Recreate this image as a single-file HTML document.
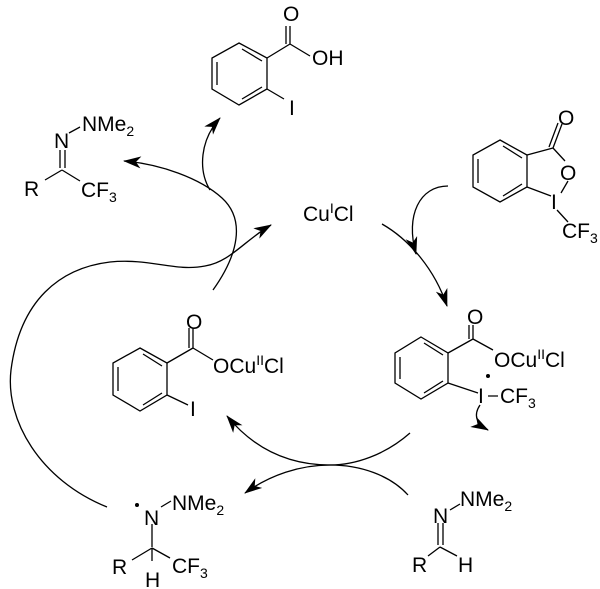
<!DOCTYPE html>
<html><head><meta charset="utf-8"><style>
html,body{margin:0;padding:0;background:#fff;}
svg{display:block;}
text{font-family:"Liberation Sans",Arial,sans-serif;font-size:21px;fill:#000;}
.s{font-size:14px;}
</style></head><body>
<svg width="600" height="589" viewBox="0 0 600 589" xmlns="http://www.w3.org/2000/svg">
<defs>
<marker id="ah" viewBox="0 0 18 12" refX="17" refY="6" markerWidth="18" markerHeight="12" markerUnits="userSpaceOnUse" orient="auto">
<path d="M0,0 L18,6 L0,12 L5,6 Z" fill="#000"/></marker>
</defs>
<g stroke="#000" stroke-width="1.3" fill="none">
<path d="M239,43 L267,58 L267,89 L239,105 L212,89 L212,58 Z"/>
<path d="M217,62 L217,85 M242,49 L262,61 M242,99 L262,87"/>
<path d="M267,58 L290,44 M290,44 L290,26 M286,44 L286,26 M290,44 L310,56 M267,89 L284,99"/>
<path d="M69,133 L80,127 M60,150 L60,168 M65,150 L65,168 M62,170 L45,180 M62,170 L80,181"/>
<path d="M500,140 L527,155 L527,187 L500,202 L473,187 L473,155 Z"/>
<path d="M478,159 L478,183 M503,146 L522,158 M503,196 L522,184"/>
<path d="M527,155 L553,148 M553,148 L562,124 M549,147 L558,123 M553,148 L565,161 M568,181 L561,193 M527,187 L551,196 M557,210 L568,222"/>
<path d="M421,337 L448,353 L448,383 L421,399 L395,383 L395,353 Z"/>
<path d="M400,357 L400,379 M424,343 L443,355 M424,393 L443,381"/>
<path d="M448,353 L473,339 M473,339 L473,325 M469,339 L469,325 M473,339 L493,350 M448,383 L478,393 M488,396 L498,396"/>
<path d="M480,405 Q470,420 488,430" marker-end="url(#ah)"/>
<path d="M140,348 L167,363 L167,395 L140,411 L113,395 L113,363 Z"/>
<path d="M118,367 L118,391 M143,354 L162,366 M143,405 L162,393"/>
<path d="M167,363 L193,348 M193,348 L193,328 M189,348 L189,328 M193,348 L213,360 M167,395 L188,405"/>
<path d="M161,507 L171,501 M152,524 L152,547 M152,548 L132,560 M152,548 L170,558 M152,548 L152,561"/>
<path d="M450,510 L460,504 M438,523 L438,545 M443,523 L443,545 M440,547 L428,556 M440,547 L457,556"/>
<path d="M213,290 C238,255 246,220 222,198 C200,178 160,164 124,161" marker-end="url(#ah)"/>
<path d="M210,190 C198,170 200,140 220,118" marker-end="url(#ah)"/>
<path d="M107,507 C40,480 5,420 11,370 C20,300 60,268 110,262 C150,258 175,272 205,266 C230,262 245,240 271,225" marker-end="url(#ah)"/>
<path d="M448,186 C420,186 405,215 416,254" marker-end="url(#ah)"/>
<path d="M382,224 C410,240 435,270 447,306" marker-end="url(#ah)"/>
<path d="M410,433 C385,455 355,465 330,465 C290,465 255,450 227,416" marker-end="url(#ah)"/>
<path d="M408,495 C390,475 360,465 330,465 C300,465 270,475 245,493" marker-end="url(#ah)"/>
</g>
<circle cx="488" cy="376" r="2" fill="#000"/>
<circle cx="137" cy="505" r="2" fill="#000"/>
<text x="283" y="21">O</text>
<text x="312" y="65">OH</text>
<text x="289" y="115">I</text>
<text x="54" y="148">N</text>
<text x="82" y="131">NMe<tspan class="s" dy="5">2</tspan></text>
<text x="24" y="196">R</text>
<text x="81" y="197">CF<tspan class="s" dy="5">3</tspan></text>
<text x="303" y="221">Cu<tspan class="s" dy="-8">I</tspan><tspan dy="8">Cl</tspan></text>
<text x="558" y="125">O</text>
<text x="560" y="180">O</text>
<text x="551" y="209">I</text>
<text x="562" y="238">CF<tspan class="s" dy="5">3</tspan></text>
<text x="467" y="324">O</text>
<text x="494" y="367">OCu<tspan class="s" dy="-8">II</tspan><tspan dy="8">Cl</tspan></text>
<text x="478" y="403">I</text>
<text x="500" y="403">CF<tspan class="s" dy="5">3</tspan></text>
<text x="186" y="329">O</text>
<text x="213" y="373">OCu<tspan class="s" dy="-8">II</tspan><tspan dy="8">Cl</tspan></text>
<text x="190" y="416">I</text>
<text x="144" y="525">N</text>
<text x="172" y="510">NMe<tspan class="s" dy="5">2</tspan></text>
<text x="112" y="574">R</text>
<text x="145" y="587">H</text>
<text x="172" y="573">CF<tspan class="s" dy="5">3</tspan></text>
<text x="433" y="523">N</text>
<text x="460" y="506">NMe<tspan class="s" dy="5">2</tspan></text>
<text x="412" y="572">R</text>
<text x="458" y="572">H</text>
</svg>
</body></html>
